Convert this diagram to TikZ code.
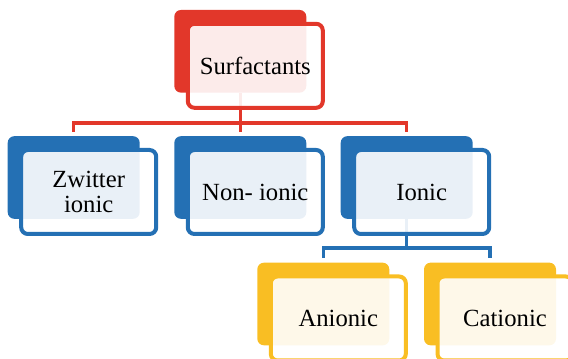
\documentclass[tikz,border=0pt]{standalone}
\usepackage{fontspec}
\setmainfont{Liberation Serif}
\usetikzlibrary{calc}
\definecolor{surfred}{HTML}{E2372A}
\definecolor{surfblue}{HTML}{2470B4}
\definecolor{surfyellow}{HTML}{F9BE23}

\tikzset{
  back/.style={fill=#1, rounded corners=5pt, minimum width=99pt, minimum height=62pt, inner sep=0pt},
  front/.style={draw=#1, fill=white, fill opacity=0.9, text opacity=1, line width=3pt, rounded corners=5pt,
    minimum width=101.25pt, minimum height=63pt, inner sep=0pt, align=center, font=\fontsize{18.5}{19}\selectfont},
  link/.style={draw=#1, line width=2.6pt},
}

\begin{document}
\begin{tikzpicture}[x=0.75pt,y=-0.75pt]
\clip (0,0) rectangle (568,359);
% back boxes
\node[back=surfred] (surf) at (240.3,51.3) {};
\node[back=surfblue] (zwit) at (73.7,177.5) {};
\node[back=surfblue] (nonion) at (240.3,177.5) {};
\node[back=surfblue] (ionic) at (406.7,177.5) {};
\node[back=surfyellow] (anion) at (323.3,304) {};
\node[back=surfyellow] (cation) at (490,304) {};
% connectors
\draw[link=surfred] (surf.south) -- ++(0,30) coordinate (redbus);
\draw[link=surfred, shorten >=3pt] (redbus) -| (zwit.north);
\draw[link=surfred, shorten >=3pt] (redbus) -| (ionic.north);
\draw[link=surfred, shorten >=3pt] (redbus) -- (nonion.north);
\draw[link=surfblue] (ionic.south) -- ++(0,28.7) coordinate (bluebus);
\draw[link=surfblue, shorten >=3pt] (bluebus) -| (anion.north);
\draw[link=surfblue, shorten >=3pt] (bluebus) -| (cation.north);
% front boxes
\node[front=surfred] (surfF) at ($(surf)+(15,14.5)$) {Surfactants};
\node[front=surfblue] (zwitF) at ($(zwit)+(15,14.5)$) {Zwitter\\ionic};
\node[front=surfblue] (nonionF) at ($(nonion)+(15,14.5)$) {Non- ionic};
\node[front=surfblue] (ionicF) at ($(ionic)+(15,14.5)$) {Ionic};
\node[front=surfyellow] (anionF) at ($(anion)+(15,14.5)$) {Anionic};
\node[front=surfyellow] (cationF) at ($(cation)+(15,14.5)$) {Cationic};
\end{tikzpicture}
\end{document}
